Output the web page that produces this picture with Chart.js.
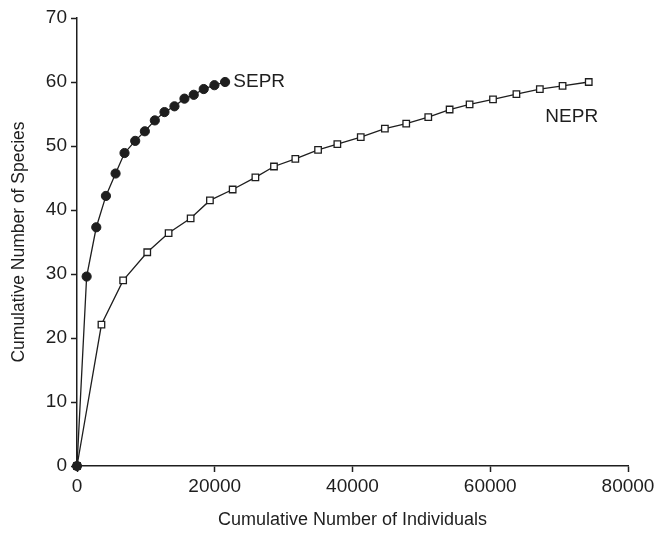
<!DOCTYPE html>
<html>
<head>
<meta charset="utf-8">
<script src="https://cdn.jsdelivr.net/npm/chart.js@4"></script>
<style>
  html, body { margin: 0; padding: 0; background: #fff; }
  #wrap { width: 667px; height: 535px; }
</style>
</head>
<body>
<div id="wrap"><canvas id="chart" width="667" height="535"></canvas></div>
<script>
// cumulative individuals (x) and species (y)
const seprX = [0, 1400, 2800, 4200, 5600, 6900, 8450, 9850, 11300, 12700, 14150, 15600, 16950, 18400, 19950, 21500]
const seprY = [0, 29.6, 37.3, 42.2, 45.7, 48.9, 50.8, 52.3, 54.0, 55.3, 56.2, 57.4, 58.0, 58.9, 59.5, 60.0]

const neprX = [0, 3550, 6700, 10200, 13300, 16500, 19300, 22600, 25900, 28600, 31700, 35000, 37800, 41200,
  44700, 47800, 51000, 54100, 57000, 60400, 63800, 67200, 70500, 74300]
const neprY = [0, 22.1, 29.0, 33.4, 36.4, 38.7, 41.5, 43.2, 45.1, 46.8, 48.0, 49.4, 50.3, 51.4,
  52.7, 53.5, 54.5, 55.7, 56.5, 57.3, 58.1, 58.9, 59.4, 60.0]

const xTicks = [0, 20000, 40000, 60000, 80000]
const yTicks = [0, 10, 20, 30, 40, 50, 60, 70]

// series labels placed in data space
const seriesLabels = [
  { text: 'SEPR', x: 22700, y: 60 },
  { text: 'NEPR', x: 68000, y: 54.5 },
]

const ink = '#1e1e1e'
const font = '"Liberation Sans", Arial, sans-serif'

const toPoints = (xs, ys) => xs.map((x, i) => ({ x, y: ys[i] }))

const labelPlugin = {
  id: 'seriesLabels',
  afterDatasetsDraw(chart) {
    const { ctx, scales } = chart
    ctx.save()
    ctx.fillStyle = ink
    ctx.font = '19px ' + font
    ctx.textAlign = 'left'
    ctx.textBaseline = 'middle'
    seriesLabels.forEach((l) => {
      ctx.fillText(l.text, scales.x.getPixelForValue(l.x), scales.y.getPixelForValue(l.y))
    })
    ctx.restore()
  },
}

new Chart(document.getElementById('chart'), {
  type: 'line',
  data: {
    datasets: [
      {
        label: 'SEPR',
        data: toPoints(seprX, seprY),
        borderColor: ink,
        borderWidth: 1.3,
        pointStyle: 'circle',
        pointRadius: 4.6,
        pointBackgroundColor: ink,
        pointBorderColor: ink,
        pointBorderWidth: 1,
        tension: 0,
        clip: false,
        order: 0,
      },
      {
        label: 'NEPR',
        data: toPoints(neprX, neprY),
        borderColor: ink,
        borderWidth: 1.3,
        pointStyle: 'rect',
        pointRadius: 4.6,
        pointBackgroundColor: '#fff',
        pointBorderColor: ink,
        pointBorderWidth: 1.3,
        tension: 0,
        clip: false,
        order: 1,
      },
    ],
  },
  options: {
    responsive: false,
    animation: false,
    layout: { padding: { top: 18, right: 39, left: 5, bottom: 0 } },
    plugins: {
      legend: { display: false },
      tooltip: { enabled: false },
    },
    scales: {
      x: {
        type: 'linear',
        min: 0,
        max: 80000,
        afterBuildTicks: (scale) => { scale.ticks = xTicks.map((v) => ({ value: v })) },
        afterFit: (scale) => { scale.height = 69 },
        border: { display: true, color: ink, width: 1.5 },
        grid: { drawOnChartArea: false, drawTicks: true, tickLength: 6, color: ink, tickWidth: 1.5 },
        ticks: { color: ink, font: { family: font, size: 19 }, padding: 3, maxRotation: 0, callback: (v) => String(v) },
        title: { display: true, text: 'Cumulative Number of Individuals', color: ink, font: { family: font, size: 18 }, padding: { top: 11 } },
      },
      y: {
        type: 'linear',
        min: 0,
        max: 70,
        afterBuildTicks: (scale) => { scale.ticks = yTicks.map((v) => ({ value: v })) },
        afterFit: (scale) => { scale.width = 72 },
        border: { display: true, color: ink, width: 1.5 },
        grid: { drawOnChartArea: false, drawTicks: true, tickLength: 6, color: ink, tickWidth: 1.5 },
        ticks: { color: ink, font: { family: font, size: 19 }, padding: 4, callback: (v) => String(v) },
        title: { display: true, text: 'Cumulative Number of Species', color: ink, font: { family: font, size: 17.5 }, padding: { bottom: 4 } },
      },
    },
  },
  plugins: [labelPlugin],
})
</script>
</body>
</html>
